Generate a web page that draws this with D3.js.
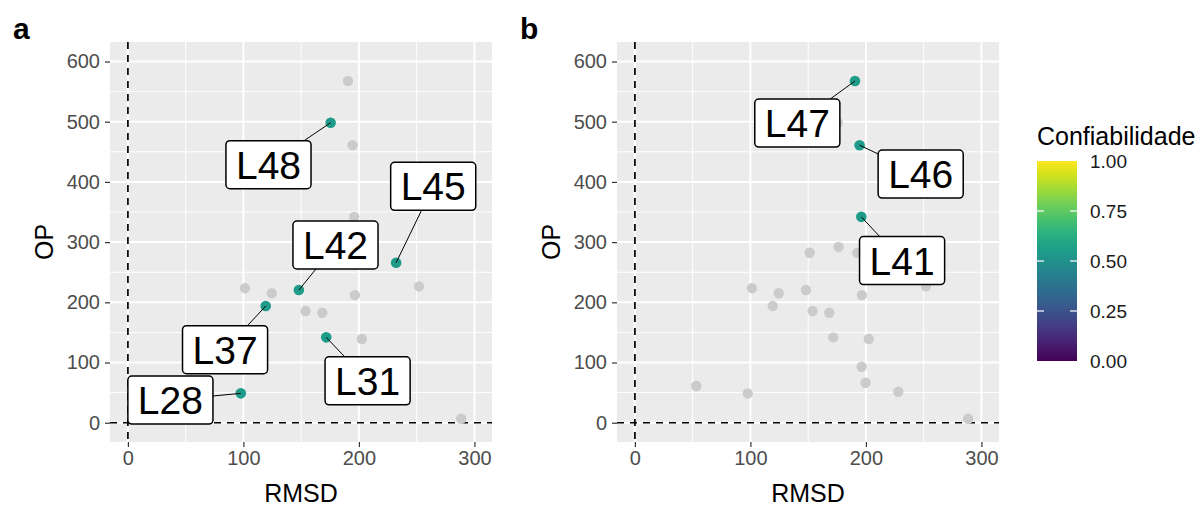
<!DOCTYPE html>
<html lang="en">
<head>
    <meta charset="UTF-8">
    <title>OP vs RMSD</title>
    <script src="https://d3js.org/d3.v7.min.js"></script>
    <style>
        body { margin: 0; background: #fff; }
        text { font-family: "Liberation Sans", Arial, sans-serif; }
    </style>
</head>
<body>
<script>
    const width  = 1197;
    const height = 506;

    // all points (same set in both panels)
    const names = ["L47","L48","L46","L41","","","","L45","","","L42","","","L37","","","L31","","","","","","L28",""];
    const rmsd  = [190.5,175.5,194.5,196,192.6,151.3,176.3,232.2,101.3,124.5,148,252,196.5,119.3,153.8,168.3,171.7,202.5,196.3,199.7,228,53.2,97.7,288.5];
    const op    = [567.6,498.3,461,342,282,282.4,292,265.8,223.5,215,220.4,226.5,212,193.8,185.5,182.7,141.8,139,93,66.5,51.5,61,48.8,6.7];

    // which points are highlighted (Confiabilidade) in each panel
    const labelsA = ["L28","L31","L37","L42","L45","L48"];
    const confA   = [0.55,0.55,0.55,0.55,0.55,0.55];
    const labelsB = ["L41","L46","L47"];
    const confB   = [0.55,0.55,0.55];

    // label box centres (data units) as placed by the repel step
    const labelPosA = [[36.8,37.7],[207.5,69.6],[84.1,121.3],[179.7,295.2],[264.3,392.7],[121.7,428.6]];
    const labelPosB = [[231.3,269.4],[247.4,413],[140.6,497.8]];

    const xTicks = [0,100,200,300];
    const yTicks = [0,100,200,300,400,500,600];
    const legendTicks = [0,0.25,0.5,0.75,1];

    const panelW = 382, panelH = 400, panelTop = 42;

    const x = d3.scaleLinear().domain([-15.5, 315.2]).range([0, panelW]);
    const y = d3.scaleLinear().domain([-32, 632.4]).range([panelH, 0]);
    const color = d3.scaleSequential(d3.interpolateViridis).domain([0, 1]);

    const svg = d3.select("body").append("svg").attr("width", width).attr("height", height);

    function panel(left, tag, labels, conf, labelPos) {
        const g = svg.append("g").attr("transform", "translate(" + [left, panelTop] + ")");

        g.append("rect").attr("width", panelW).attr("height", panelH).attr("fill", "#ebebeb");

        // minor grid
        const xMinor = [50,150,250], yMinor = [50,150,250,350,450,550];
        g.selectAll(".xminor").data(xMinor).enter().append("line")
            .attr("x1", d => x(d)).attr("x2", d => x(d)).attr("y1", 0).attr("y2", panelH)
            .attr("stroke", "#fff").attr("stroke-width", 1);
        g.selectAll(".yminor").data(yMinor).enter().append("line")
            .attr("y1", d => y(d)).attr("y2", d => y(d)).attr("x1", 0).attr("x2", panelW)
            .attr("stroke", "#fff").attr("stroke-width", 1);
        // major grid
        g.selectAll(".xmajor").data(xTicks).enter().append("line")
            .attr("x1", d => x(d)).attr("x2", d => x(d)).attr("y1", 0).attr("y2", panelH)
            .attr("stroke", "#fff").attr("stroke-width", 2);
        g.selectAll(".ymajor").data(yTicks).enter().append("line")
            .attr("y1", d => y(d)).attr("y2", d => y(d)).attr("x1", 0).attr("x2", panelW)
            .attr("stroke", "#fff").attr("stroke-width", 2);

        // reference lines
        g.append("line").attr("x1", x(0)).attr("x2", x(0)).attr("y1", 0).attr("y2", panelH)
            .attr("stroke", "#000").attr("stroke-width", 1.7).attr("stroke-dasharray", "7,6");
        g.append("line").attr("y1", y(0)).attr("y2", y(0)).attr("x1", 0).attr("x2", panelW)
            .attr("stroke", "#000").attr("stroke-width", 1.7).attr("stroke-dasharray", "7,6");

        const pts = names.map((n, i) => {
            const k = labels.indexOf(n);
            return {name: n, x: rmsd[i], y: op[i], c: k >= 0 ? conf[k] : null};
        });

        g.selectAll(".pt").data(pts.filter(d => d.c === null)).enter().append("circle")
            .attr("cx", d => x(d.x)).attr("cy", d => y(d.y)).attr("r", 5.2)
            .attr("fill", "#cbcbcb");
        g.selectAll(".hl").data(pts.filter(d => d.c !== null)).enter().append("circle")
            .attr("cx", d => x(d.x)).attr("cy", d => y(d.y)).attr("r", 5.3)
            .attr("fill", d => color(d.c));

        // labels
        labels.forEach((lab, k) => {
            const i = names.indexOf(lab);
            const cx = x(labelPos[k][0]), cy = y(labelPos[k][1]);
            g.append("line")
                .attr("x1", cx).attr("y1", cy).attr("x2", x(rmsd[i])).attr("y2", y(op[i]))
                .attr("stroke", "#000").attr("stroke-width", 1);
            const lg = g.append("g");
            const r = lg.append("rect");
            const t = lg.append("text").attr("x", cx).attr("y", cy + 14)
                .attr("text-anchor", "middle").attr("font-size", 39).attr("fill", "#000").text(lab);
            const w = t.node().getComputedTextLength() + 20;
            r.attr("x", cx - w / 2).attr("y", cy - 24).attr("width", w).attr("height", 48)
                .attr("rx", 4).attr("fill", "#fff").attr("stroke", "#000").attr("stroke-width", 1.5);
        });

        // axes
        const xAxis = d3.axisBottom(x).tickValues(xTicks).tickSize(5).tickPadding(4);
        const yAxis = d3.axisLeft(y).tickValues(yTicks).tickSize(5).tickPadding(5);
        const gx = g.append("g").attr("transform", "translate(0," + panelH + ")").call(xAxis);
        const gy = g.append("g").call(yAxis);
        [gx, gy].forEach(a => {
            a.select(".domain").remove();
            a.selectAll("line").attr("stroke", "#333").attr("stroke-width", 1.2);
            a.selectAll("text").attr("fill", "#4d4d4d").attr("font-size", 20)
                .style("font-family", "'Liberation Sans', Arial, sans-serif");
        });

        g.append("text").attr("x", panelW / 2).attr("y", panelH + 60)
            .attr("text-anchor", "middle").attr("font-size", 25).attr("fill", "#000").text("RMSD");
        g.append("text").attr("transform", "translate(-57," + panelH / 2 + ") rotate(-90)")
            .attr("text-anchor", "middle").attr("font-size", 25).attr("fill", "#000").text("OP");
        svg.append("text").attr("x", left - 97).attr("y", 39)
            .attr("font-size", 30).attr("font-weight", "bold").attr("fill", "#000").text(tag);
    }

    panel(110, "a", labelsA, confA, labelPosA);
    panel(617, "b", labelsB, confB, labelPosB);

    // legend
    const legX = 1037, legTop = 161, legH = 200, legW = 40;
    const ly = d3.scaleLinear().domain([0, 1]).range([legTop + legH, legTop]);
    const defs = svg.append("defs");
    const grad = defs.append("linearGradient").attr("id", "vir")
        .attr("x1", 0).attr("y1", 1).attr("x2", 0).attr("y2", 0);
    d3.range(0, 1.0001, 0.05).forEach(s => {
        grad.append("stop").attr("offset", s).attr("stop-color", color(s));
    });
    svg.append("rect").attr("x", legX).attr("y", legTop).attr("width", legW).attr("height", legH)
        .attr("fill", "url(#vir)");
    svg.selectAll(".lt").data(legendTicks.slice(1, 4)).enter().append("g").each(function(d) {
        const gg = d3.select(this);
        gg.append("line").attr("x1", legX).attr("x2", legX + 7).attr("y1", ly(d)).attr("y2", ly(d))
            .attr("stroke", "#fff").attr("stroke-width", 1.2);
        gg.append("line").attr("x1", legX + legW - 7).attr("x2", legX + legW).attr("y1", ly(d)).attr("y2", ly(d))
            .attr("stroke", "#fff").attr("stroke-width", 1.2);
    });
    svg.selectAll(".ll").data(legendTicks).enter().append("text")
        .attr("x", legX + legW + 13).attr("y", d => ly(d) + 7)
        .attr("font-size", 19).attr("fill", "#1a1a1a").text(d => d3.format(".2f")(d));
    svg.append("text").attr("x", legX).attr("y", 145).attr("font-size", 25).attr("fill", "#000")
        .text("Confiabilidade");
</script>
</body>
</html>
